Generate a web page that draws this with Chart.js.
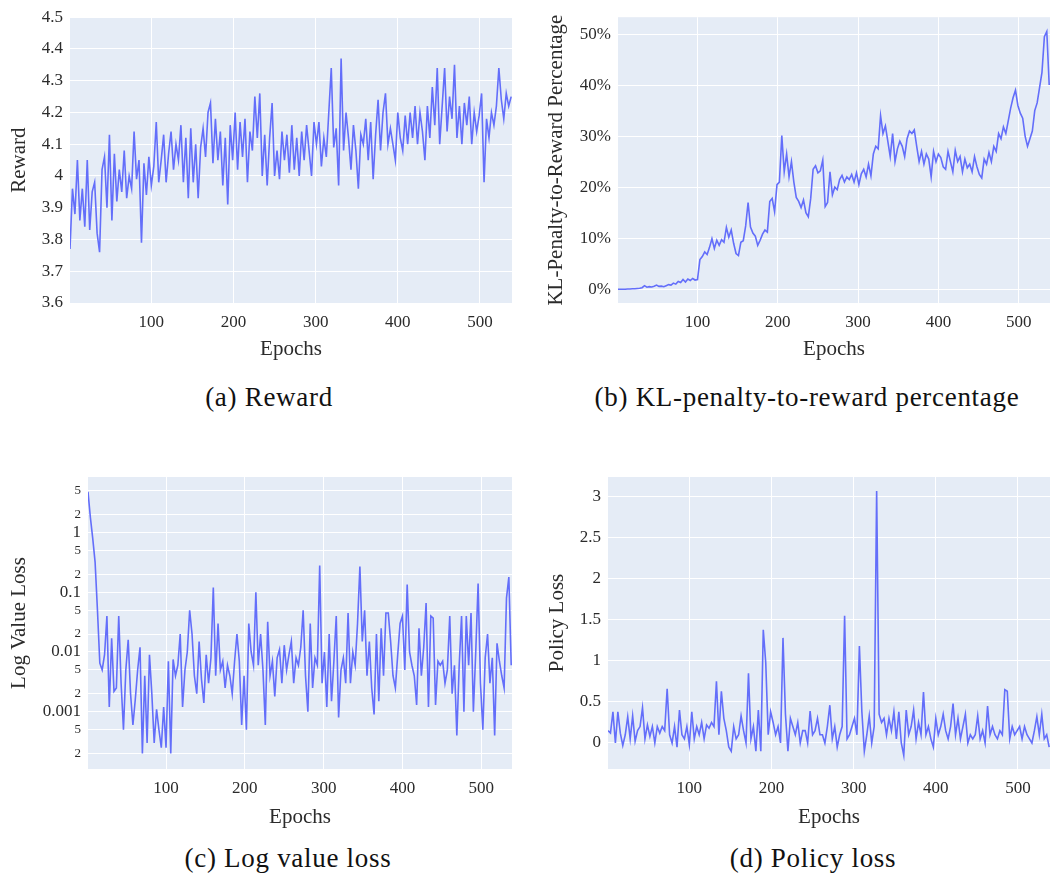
<!DOCTYPE html>
<html>
<head>
<meta charset="utf-8">
<script src="https://cdn.jsdelivr.net/npm/chart.js@4.4.1/dist/chart.umd.min.js"></script>
<style>
  body { margin: 0; background: #fff; }
  #wrap { position: relative; width: 1051px; height: 879px; overflow: hidden; }
  canvas { position: absolute; }
  .cap {
    position: absolute; transform: translate(-50%, -50%);
    font-family: "Liberation Serif", serif; font-size: 27px; letter-spacing: 0.7px;
    color: #111; white-space: nowrap;
  }
</style>
</head>
<body>
<div id="wrap">
  <canvas id="cReward" width="525" height="375" style="left:0;top:0"></canvas>
  <canvas id="cKl" width="526" height="375" style="left:525px;top:0"></canvas>
  <canvas id="cValue" width="525" height="400" style="left:0;top:440px"></canvas>
  <canvas id="cPolicy" width="526" height="400" style="left:525px;top:440px"></canvas>
  <div class="cap" style="left:269px;top:397px">(a) Reward</div>
  <div class="cap" style="left:807px;top:397px">(b) KL-penalty-to-reward percentage</div>
  <div class="cap" style="left:288px;top:858px">(c) Log value loss</div>
  <div class="cap" style="left:813px;top:858px">(d) Policy loss</div>
</div>
<script>
// one value every 3 epochs, starting at epoch 1
const epochStep = 3;
const epochTicks = [100, 200, 300, 400, 500];

const reward = [
  3.77, 3.96, 3.88, 4.05, 3.86, 3.96, 3.84, 4.05, 3.83, 3.95,
  3.98, 3.82, 3.76, 4.02, 4.06, 3.90, 4.13, 3.86, 4.07, 3.92,
  4.02, 3.95, 4.08, 3.93, 4.00, 3.96, 4.14, 3.99, 4.05, 3.79,
  4.04, 3.94, 4.06, 3.97, 4.03, 4.17, 3.98, 4.05, 4.13, 3.98,
  4.07, 4.14, 4.02, 4.10, 4.05, 4.16, 3.98, 4.12, 3.93, 4.15,
  3.98, 4.10, 3.93, 4.09, 4.15, 4.06, 4.20, 4.23, 4.04, 4.18,
  4.05, 4.14, 3.97, 4.12, 3.91, 4.16, 4.05, 4.20, 4.02, 4.17,
  4.06, 4.18, 3.98, 4.14, 4.08, 4.25, 4.12, 4.26, 4.00, 4.13,
  3.97, 4.12, 4.23, 4.00, 4.08, 3.99, 4.14, 4.05, 4.13, 4.01,
  4.16, 4.02, 4.12, 4.00, 4.14, 4.05, 4.16, 4.08, 4.00, 4.17,
  4.10, 4.17, 4.03, 4.12, 4.06, 4.20, 4.34, 4.09, 4.15, 3.97,
  4.37, 4.08, 4.20, 4.12, 4.02, 4.16, 4.08, 3.96, 4.13, 4.10,
  4.18, 4.05, 4.17, 3.99, 4.13, 4.24, 4.08, 4.20, 4.26, 4.10,
  4.15, 4.10, 4.05, 4.20, 4.12, 4.08, 4.19, 4.10, 4.20, 4.12,
  4.22, 4.10, 4.20, 4.14, 4.05, 4.22, 4.12, 4.28, 4.16, 4.34,
  4.10, 4.22, 4.34, 4.14, 4.25, 4.18, 4.35, 4.12, 4.22, 4.10,
  4.23, 4.16, 4.25, 4.10, 4.20, 4.14, 4.19, 4.26, 3.98, 4.18,
  4.12, 4.20, 4.16, 4.22, 4.34, 4.24, 4.18, 4.26, 4.22, 4.25
];

const klPercent = [
  0, 0, 0, 0, 0.05, 0.05, 0.1, 0.1, 0.15, 0.2,
  0.3, 0.7, 0.4, 0.5, 0.45, 0.6, 0.8, 0.55, 0.6, 0.5,
  0.7, 0.9, 0.8, 1.2, 1.0, 1.5, 1.3, 1.9, 1.4, 2.0,
  1.7, 2.1, 1.8, 1.9, 5.8, 6.4, 7.3, 6.8, 8.2, 9.9,
  8.0, 9.6, 8.6, 9.7, 9.2, 12.1, 10.2, 11.6, 9.0, 7.0,
  6.6, 9.2, 9.5, 12.4, 17.0, 12.2, 11.0, 10.4, 8.6, 9.6,
  10.8, 11.6, 11.2, 17.2, 17.8, 15.2, 20.5, 21.0, 30.1, 23.0,
  26.5, 22.0, 25.0, 21.0, 18.0, 17.2, 16.0, 17.5, 15.0, 14.2,
  17.8, 23.5, 24.2, 22.8, 23.2, 25.3, 16.2, 17.0, 23.0, 18.5,
  20.0, 19.5, 21.5, 22.3, 21.0, 22.0, 21.5, 22.5, 21.0, 22.8,
  20.5, 22.6, 23.5, 22.0, 24.5, 22.2, 26.5, 28.0, 27.5, 34.0,
  30.5, 32.0, 29.0, 26.0, 30.5, 25.0, 27.5, 29.0, 28.0, 26.0,
  29.5, 31.0, 30.5, 31.2, 28.0, 25.0, 27.0, 24.5, 26.5, 25.5,
  22.0, 27.0, 25.0, 26.5, 25.8, 24.0, 23.5, 27.0, 25.0, 23.0,
  27.2, 25.0, 26.0, 23.0, 25.5, 23.8, 24.5, 23.0, 26.0, 24.0,
  22.5, 21.8, 25.5, 24.5, 26.8, 25.0, 28.0, 27.0, 30.5, 29.5,
  31.8, 30.5, 33.0, 35.5, 37.5, 39.0, 36.0, 34.5, 33.5, 30.0,
  28.0, 29.5, 31.0, 35.0, 36.5, 39.5, 42.5, 49.5, 50.5, 40.0
];

const valueLoss = [
  4.8, 1.8, 0.8, 0.32, 0.05, 0.0065, 0.005, 0.009, 0.04, 0.0012,
  0.017, 0.0022, 0.0025, 0.04, 0.003, 0.0005, 0.005, 0.016, 0.002, 0.0006,
  0.0016, 0.005, 0.012, 0.0002, 0.004, 0.0003, 0.009, 0.002, 0.0003, 0.0011,
  0.0005, 0.00025, 0.0012, 0.00025, 0.007, 0.0002, 0.0075, 0.004, 0.006, 0.02,
  0.0012, 0.005, 0.01, 0.05, 0.02, 0.004, 0.002, 0.015, 0.0035, 0.0014,
  0.009, 0.003, 0.008, 0.12, 0.004, 0.03, 0.005, 0.007, 0.0025, 0.006,
  0.004, 0.002, 0.007, 0.02, 0.007, 0.0006, 0.004, 0.0005, 0.03, 0.01,
  0.006, 0.1, 0.006, 0.02, 0.005, 0.0006, 0.032, 0.004, 0.007, 0.0018,
  0.008, 0.011, 0.003, 0.013, 0.005, 0.009, 0.015, 0.003, 0.008, 0.006,
  0.012, 0.05, 0.004, 0.001, 0.03, 0.0025, 0.008, 0.006, 0.28, 0.003,
  0.01, 0.0012, 0.02, 0.0015, 0.007, 0.04, 0.0008, 0.005, 0.008, 0.003,
  0.045, 0.003, 0.01, 0.006, 0.03, 0.27, 0.015, 0.05, 0.004, 0.015,
  0.0025, 0.0009, 0.02, 0.0015, 0.025, 0.004, 0.045, 0.045, 0.015, 0.004,
  0.0025, 0.009, 0.03, 0.04, 0.005, 0.135, 0.01, 0.006, 0.004, 0.0013,
  0.025, 0.004, 0.012, 0.066, 0.0012, 0.04, 0.037, 0.0013, 0.007, 0.006,
  0.007, 0.003, 0.005, 0.04, 0.002, 0.006, 0.0004, 0.006, 0.04, 0.001,
  0.04, 0.006, 0.045, 0.001, 0.01, 0.14, 0.003, 0.0005, 0.008, 0.02,
  0.003, 0.008, 0.0004, 0.014, 0.007, 0.004, 0.0025, 0.08, 0.18, 0.006
];

const policyLoss = [
  0.15, 0.12, 0.38, 0.0, 0.38, 0.12, -0.03, 0.1, 0.32, 0.05,
  0.33, 0.02, 0.15, 0.2, 0.43, 0.05, 0.22, 0.08, 0.2, 0.0,
  0.2, 0.12, 0.2, 0.15, 0.66, 0.1, 0.0, 0.2, -0.05, 0.4,
  0.1, 0.05, 0.2, -0.02, 0.38, 0.05, 0.2, 0.1, 0.25, 0.05,
  0.22, 0.18, 0.25, 0.2, 0.75, 0.1, 0.63, 0.3, 0.15, -0.05,
  -0.1, 0.2, 0.05, 0.1, 0.33, 0.15, 0.0, 0.85, 0.05, 0.2,
  -0.1, 0.4, -0.1, 1.38, 0.98, 0.1, 0.38, 0.25, 0.1, 0.2,
  0.0, 1.28, 0.35, -0.1, 0.3, 0.2, 0.1, 0.25, 0.0, 0.15,
  0.15, 0.0, 0.39, 0.1, 0.15, 0.3, 0.1, 0.1, 0.0, 0.2,
  0.46, 0.05, 0.2, -0.05, 0.1, 0.2, 1.55, 0.05, 0.1, 0.2,
  0.3, 0.1, 1.18, 0.38, -0.1, 0.1, 0.33, 0.0, 0.2, 3.07,
  0.35, 0.25, 0.3, 0.1, 0.3, 0.15, 0.38, 0.05, 0.38, 0.0,
  -0.15, 0.4, 0.1, 0.2, 0.4, 0.05, 0.25, 0.1, 0.62, 0.1,
  0.2, 0.05, -0.05, 0.3, 0.1, 0.2, 0.35, 0.15, 0.05, 0.2,
  0.48, 0.1, 0.3, 0.05, 0.2, 0.35, 0.0, 0.1, 0.05, 0.1,
  0.33, 0.05, 0.15, 0.0, 0.45, 0.1, 0.2, 0.1, 0.05, 0.15,
  0.1, 0.65, 0.63, 0.05, 0.2, 0.1, 0.15, 0.2, 0.05, 0.2,
  0.1, 0.05, 0.0, 0.15, 0.32, 0.1, 0.35, 0.05, 0.1, -0.05
];

const rewardTicks = [3.6, 3.7, 3.8, 3.9, 4.0, 4.1, 4.2, 4.3, 4.4, 4.5];
const klTicks = [0, 10, 20, 30, 40, 50];
const valueTicks = [0.0002, 0.0005, 0.001, 0.002, 0.005, 0.01, 0.02, 0.05, 0.1, 0.2, 0.5, 1, 2, 5];
const policyTicks = [0, 0.5, 1, 1.5, 2, 2.5, 3];

const serif = "'Liberation Serif', 'Times New Roman', serif";
const textColor = "#2b2b2b";

Chart.defaults.font.family = serif;
Chart.defaults.color = textColor;

const plotBg = {
  id: "plotBg",
  beforeDraw(chart) {
    const { ctx, chartArea: a } = chart;
    ctx.save();
    ctx.fillStyle = "#E5ECF6";
    ctx.fillRect(a.left, a.top, a.right - a.left, a.bottom - a.top);
    ctx.restore();
  }
};

function points(values) {
  return values.map((v, i) => ({ x: 1 + i * epochStep, y: v }));
}

function makeChart(id, o) {
  const yAxis = {
    type: o.yType || "linear",
    min: o.yMin,
    max: o.yMax,
    afterFit(s) { s.width = o.yWidth; },
    afterBuildTicks(s) { s.ticks = o.yTicks.map(v => ({ value: v })); },
    grid: { color: "#ffffff", lineWidth: 1, drawTicks: false },
    border: { display: false },
    ticks: {
      autoSkip: false,
      padding: 7,
      color: textColor,
      font: o.yFont || { family: serif, size: 17 },
      callback: o.yLabel
    },
    title: {
      display: true,
      text: o.yTitle,
      color: textColor,
      font: { family: serif, size: 21 },
      padding: { top: o.yTitlePad, bottom: 0 }
    }
  };

  return new Chart(document.getElementById(id), {
    type: "line",
    data: {
      datasets: [{
        data: points(o.values),
        borderColor: "#636EFA",
        borderWidth: 1.6,
        pointRadius: 0,
        tension: 0,
        fill: false
      }]
    },
    options: {
      responsive: false,
      animation: false,
      layout: { padding: o.pad },
      plugins: { legend: { display: false }, tooltip: { enabled: false } },
      scales: {
        x: {
          type: "linear",
          min: 1,
          max: 539,
          afterFit(s) { s.height = o.xHeight; },
          afterBuildTicks(s) { s.ticks = epochTicks.map(v => ({ value: v })); },
          grid: { color: "#ffffff", lineWidth: 1, drawTicks: false },
          border: { display: false },
          ticks: { autoSkip: false, padding: 9, maxRotation: 0, color: textColor, font: { family: serif, size: 17 } },
          title: {
            display: true,
            text: "Epochs",
            color: textColor,
            font: { family: serif, size: 21 },
            padding: { top: 0, bottom: o.xTitlePad }
          }
        },
        y: yAxis
      }
    },
    plugins: [plotBg]
  });
}

makeChart("cReward", {
  values: reward,
  yMin: 3.6, yMax: 4.5, yTicks: rewardTicks,
  yLabel: v => String(Number(v.toFixed(1))),
  yTitle: "Reward", yWidth: 70, yTitlePad: 7,
  xHeight: 72, xTitlePad: 13,
  pad: { top: 12, right: 13, left: 0, bottom: 0 }
});

makeChart("cKl", {
  values: klPercent,
  yMin: -2.7, yMax: 53.3, yTicks: klTicks,
  yLabel: v => v + "%",
  yTitle: "KL-Penalty-to-Reward Percentage", yWidth: 93, yTitlePad: 19,
  xHeight: 72, xTitlePad: 13,
  pad: { top: 12, right: 1, left: 0, bottom: 0 }
});

function isDecade(v) {
  const m = v / Math.pow(10, Math.floor(Math.log10(v) + 1e-9));
  return Math.abs(m - 1) < 1e-6;
}

makeChart("cValue", {
  values: valueLoss,
  yType: "logarithmic",
  yMin: 0.00011, yMax: 8.5, yTicks: valueTicks,
  yFont: ctx => ({ family: serif, size: ctx.tick && !isDecade(ctx.tick.value) ? 13 : 17 }),
  yLabel: v => {
    if (isDecade(v)) return String(Number(v.toPrecision(1)));
    return String(Math.round(v / Math.pow(10, Math.floor(Math.log10(v) + 1e-9))));
  },
  yTitle: "Log Value Loss", yWidth: 88, yTitlePad: 7,
  xHeight: 71, xTitlePad: 10,
  pad: { top: 37, right: 13, left: 0, bottom: 0 }
});

makeChart("cPolicy", {
  values: policyLoss,
  yMin: -0.317, yMax: 3.24, yTicks: policyTicks,
  yLabel: v => String(v),
  yTitle: "Policy Loss", yWidth: 83, yTitlePad: 20,
  xHeight: 71, xTitlePad: 10,
  pad: { top: 37, right: 1, left: 0, bottom: 0 }
});
</script>
</body>
</html>
